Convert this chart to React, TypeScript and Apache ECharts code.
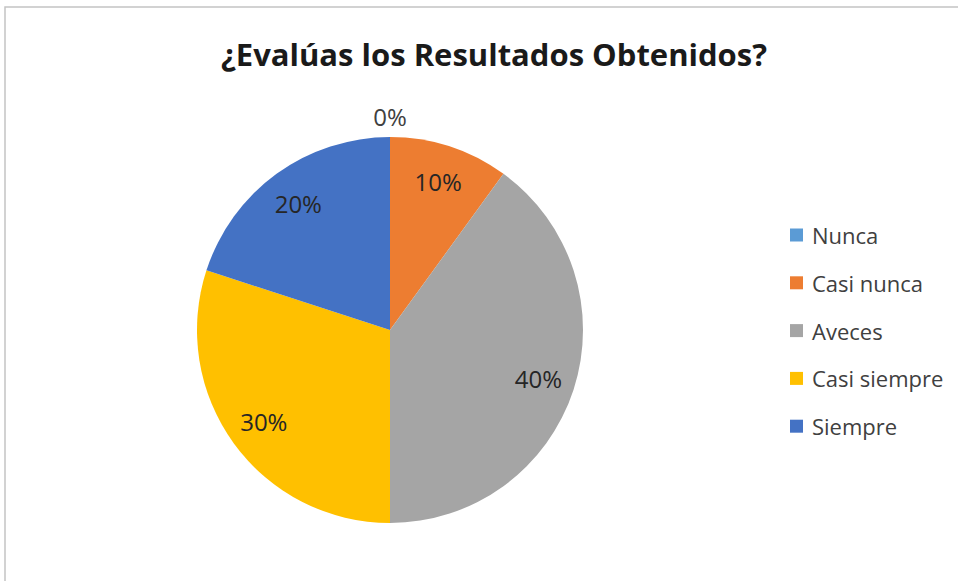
import React, { useEffect, useRef } from "react";
import * as echarts from "echarts";

const categories = ["Nunca", "Casi nunca", "Aveces", "Casi siempre", "Siempre"];
const values = [0, 10, 40, 30, 20];
const colors = ["#5b9bd5", "#ed7d31", "#a5a5a5", "#ffc000", "#4472c4"];
const titleText = "¿Evalúas los Resultados Obtenidos?";

const FONT = "'Open Sans', 'Noto Sans', sans-serif";

export default function App() {
  const ref = useRef<HTMLDivElement>(null);
  useEffect(() => {
    document.body.style.margin = "0";
    const chart = echarts.init(ref.current!, null, { renderer: "svg" });
    const total = values.reduce((a, b) => a + b, 0);
    const fmt = (p: any) => Math.round((p.value / total) * 100) + "%";
    const center = [390, 330];
    chart.setOption({
      animation: false,
      backgroundColor: "#ffffff",
      color: colors,
      title: {
        text: titleText,
        left: 489,
        textAlign: "center",
        top: 33,
        textStyle: { fontFamily: FONT, fontSize: 31, fontWeight: "bold", color: "#1a1a1a" },
      },
      legend: {
        orient: "vertical",
        left: 785,
        top: 219,
        itemWidth: 13,
        itemHeight: 13,
        itemGap: 25.8,
        icon: "rect",
        data: categories,
        textStyle: {
          fontFamily: FONT,
          fontSize: 22,
          lineHeight: 22,
          color: "#404040",
          padding: [0, 0, 0, 4],
        },
      },
      graphic: [
        {
          type: "rect",
          shape: { x: 5, y: 7, width: 1200, height: 1200 },
          style: { fill: "none", stroke: "#c4c4c4", lineWidth: 1.5 },
          silent: true,
        },
      ],
      series: [
        {
          type: "pie",
          center,
          radius: 193,
          startAngle: 90,
          clockwise: true,
          label: { show: false },
          labelLine: { show: false },
          itemStyle: { borderWidth: 0 },
          data: categories.map((n, i) => ({ name: n, value: values[i] })),
        },
        {
          type: "pie",
          center,
          radius: [113, 193],
          startAngle: 90,
          clockwise: true,
          silent: true,
          legendHoverLink: false,
          itemStyle: { color: "rgba(0,0,0,0)" },
          label: {
            show: true,
            position: "inside",
            formatter: fmt,
            fontFamily: FONT,
            fontSize: 24,
            color: "#262626",
          },
          labelLine: { show: false },
          data: categories.map((n, i) => ({
            name: n,
            value: values[i],
            label: { show: values[i] !== 0 },
          })),
        },
        {
          type: "pie",
          center,
          radius: [193, 229],
          startAngle: 90,
          clockwise: true,
          silent: true,
          legendHoverLink: false,
          itemStyle: { color: "rgba(0,0,0,0)" },
          label: {
            show: true,
            position: "inside",
            formatter: fmt,
            fontFamily: FONT,
            fontSize: 24,
            color: "#404040",
          },
          labelLine: { show: false },
          data: categories.map((n, i) => ({
            name: n,
            value: values[i],
            label: { show: values[i] === 0 },
          })),
        },
      ],
    });
    return () => chart.dispose();
  }, []);
  return (
    <div
      ref={ref}
      style={{ position: "absolute", left: 0, top: 0, width: 958, height: 581 }}
    />
  );
}
